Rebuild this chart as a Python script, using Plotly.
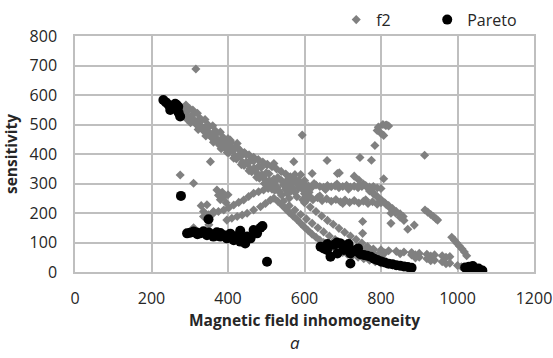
import plotly.graph_objects as go

# ---------------- data ----------------
f2_x = [
    # main upper band
    282, 287, 290, 294, 292, 300, 302, 307, 308, 315, 312, 320, 322, 328, 327, 335, 332, 340, 342, 348,
    347, 355, 352, 360, 362, 368, 367, 375, 372, 380, 382, 388, 387, 395, 392, 400, 402, 408, 407, 415,
    412, 420, 422, 428, 427, 435, 432, 440, 442, 448, 447, 455, 452, 460, 462, 468, 467, 475, 472, 480,
    482, 488, 487, 495, 492, 500, 502, 508, 507, 515, 512, 520, 522, 528, 527,
    298, 318, 338, 358, 378, 398, 418, 438, 458, 478, 498, 518,
    # upper parallel strand
    371, 383, 395, 407, 419, 431, 443, 455, 467, 479, 491, 503, 515, 527, 539, 551, 563, 575,
    # scattered points
    316, 354, 275, 310, 594, 406, 424, 502, 520, 572, 659, 691, 620, 745, 775, 784, 914, 807, 686,
    790, 793, 800, 805, 807, 812, 815, 820,
    # dense central cluster
    520, 528, 535, 540, 545, 550, 555, 560, 565, 570, 575, 580, 585, 590, 595, 600, 605, 560, 570, 580,
    590, 598, 608, 612, 550, 565, 585, 600, 575, 540, 530, 555, 615, 595,
    # upper strip at about 290
    610, 620, 630, 640, 650, 660, 670, 680, 690, 700, 710, 720, 730, 740, 750, 760, 770, 780, 790, 800,
    625, 655, 685, 715, 745, 775,
    # lower strip at about 240
    610, 622, 634, 646, 658, 670, 682, 694, 706, 718, 730, 742, 754, 766, 778, 790, 800, 640, 700, 760,
    # descending bands on the right
    770, 780, 790, 800, 810, 820, 830, 840, 850, 858,
    730, 742, 754, 766, 778, 790, 802, 814, 826, 838, 850, 860,
    # rising arms of the cross
    336, 349, 362, 375, 389, 402, 415, 428, 441, 454, 467, 480, 493, 505,
    397, 410, 424, 437, 450, 467, 485, 498, 511, 520,
    371, 375, 380, 390, 395, 385, 400,
    330, 336, 345, 362, 350, 310,
    # lower descending bands
    530, 540, 550, 560, 570, 580, 590, 600, 610, 620, 630, 640, 650, 660, 670, 680, 690, 700, 712, 725,
    740, 755, 770, 785, 800, 815, 830, 845, 860,
    545, 560, 575, 590, 605, 620, 635, 650, 665, 680, 695, 710, 725, 740, 755, 770, 785, 800,
    600, 615, 630, 645, 660, 675, 690, 705, 720, 735, 750, 765, 780, 795,
    # strands above the right Pareto points
    760, 780, 800, 820, 840, 860, 880, 900, 920, 940, 960, 980, 770, 810, 850, 890, 930, 970,
    880, 900, 920, 940, 960, 980, 1000, 1010, 890, 930, 970,
    985, 992, 998, 1005, 1012, 1018, 1024,
    915, 922, 930, 937, 944, 948,
    826, 826, 870, 887, 752, 752,
]
f2_y = [
    # main upper band
    533, 548, 566, 516, 543, 553, 506, 531, 549, 503, 514, 538, 483, 510, 521, 480, 492, 517, 461, 489,
    500, 459, 470, 496, 440, 467, 479, 437, 449, 474, 418, 446, 457, 416, 428, 452, 404, 416, 441, 386,
    413, 424, 383, 395, 419, 364, 391, 402, 361, 373, 398, 343, 369, 380, 340, 352, 376, 321, 348, 358,
    318, 330, 354, 300, 326, 336, 297, 309, 333, 281, 305, 315, 277, 288, 311,
    525, 500, 478, 455, 430, 405, 395, 372, 350, 332, 312, 292,
    # upper parallel strand
    450, 442, 436, 428, 420, 412, 405, 397, 389, 381, 373, 365, 357, 349, 341, 332, 323, 315,
    # scattered points
    688, 374, 329, 301, 464, 447, 436, 363, 368, 374, 378, 336, 334, 388, 379, 429, 396, 316, 334,
    480, 491, 470, 500, 463, 497, 498, 495,
    # dense central cluster
    300, 285, 270, 310, 295, 280, 265, 320, 300, 285, 270, 255, 310, 295, 280, 265, 250, 250, 315, 300,
    330, 300, 285, 270, 305, 275, 285, 310, 330, 260, 320, 290, 255, 245,
    # upper strip at about 290
    292, 288, 295, 290, 287, 293, 289, 292, 286, 290, 294, 288, 291, 286, 290, 293, 288, 290, 285, 283,
    300, 280, 298, 281, 297, 282,
    # lower strip at about 240
    250, 245, 252, 242, 248, 240, 246, 238, 244, 236, 242, 234, 240, 232, 238, 230, 235, 258, 232, 245,
    # descending bands on the right
    275, 265, 255, 245, 235, 225, 215, 205, 197, 188,
    325, 312, 298, 284, 270, 256, 242, 228, 214, 200, 186, 175,
    # rising arms of the cross
    188, 194, 199, 205, 210, 218, 227, 236, 244, 256, 267, 272, 278, 283,
    176, 182, 188, 193, 199, 210, 221, 232, 244, 250,
    278, 260, 245, 255, 235, 270, 262,
    225, 205, 228, 205, 160, 150,
    # lower descending bands
    240, 228, 215, 202, 190, 178, 165, 152, 140, 128, 118, 108, 100, 92, 85, 78, 72, 66, 60, 55,
    50, 45, 40, 35, 30, 27, 24, 21, 19,
    240, 225, 210, 195, 180, 165, 150, 136, 122, 110, 100, 90, 82, 75, 68, 62, 57, 52,
    235, 220, 205, 190, 175, 162, 148, 135, 122, 110, 98, 86, 74, 62,
    # strands above the right Pareto points
    80, 78, 75, 72, 70, 68, 66, 63, 60, 58, 55, 52, 70, 65, 62, 58, 54, 50,
    58, 50, 45, 40, 35, 30, 22, 18, 48, 38, 28,
    118, 108, 98, 88, 78, 68, 55,
    210, 203, 195, 188, 180, 176,
    165, 199, 145, 159, 171, 131,
]

pareto_x = [
    # upper-left group
    231, 238, 245, 252, 258, 266, 271, 275, 249, 262, 270,
    # single points
    277, 349, 502, 720,
    # lower-left group
    293, 301, 310, 318, 327, 336, 345, 354, 362, 371, 380, 389, 397, 406, 415, 424, 432, 441, 445, 450,
    459, 467, 476, 485, 490, 432, 380, 350, 320,
    # lower-right group
    642, 650, 659, 668, 677, 686, 694, 703, 712, 720, 729, 738, 746, 755, 764, 773, 782, 790, 800, 810,
    820, 830, 840, 850, 860, 870, 880, 700, 685, 660, 715, 740,
    # right group
    1020, 1025, 1030, 1035, 1040, 1045, 1050, 1055, 1060, 1065, 1040, 1030,
]
pareto_y = [
    # upper-left group
    583, 575, 566, 560, 555, 566, 540, 527, 549, 570, 560,
    # single points
    258, 179, 35, 29,
    # lower-left group
    131, 133, 137, 134, 131, 138, 125, 128, 120, 135, 120, 125, 114, 130, 108, 122, 103, 112, 97, 120,
    114, 142, 131, 150, 156, 140, 132, 134, 128,
    # lower-right group
    86, 80, 75, 52, 92, 63, 97, 75, 86, 63, 72, 69, 60, 58, 55, 52, 45, 41, 36, 32,
    28, 26, 23, 21, 19, 17, 14, 90, 100, 95, 95, 80,
    # right group
    15, 10, 18, 12, 15, 10, 8, 12, 5, 5, 20, 8,
]

x_ticks = [0, 200, 400, 600, 800, 1000, 1200]
y_ticks = [0, 100, 200, 300, 400, 500, 600, 700, 800]

# ---------------- figure ----------------
FONT = "Open Sans"
GRID = "#bfbfbf"
TXT = "#262626"

fig = go.Figure()
fig.add_trace(go.Scatter(
    x=f2_x, y=f2_y, mode="markers", name="f2", legendwidth=46,
    marker=dict(symbol="diamond", size=7, color="#808080", line=dict(width=0)),
))
fig.add_trace(go.Scatter(
    x=pareto_x, y=pareto_y, mode="markers", name="Pareto", legendwidth=60,
    marker=dict(symbol="circle", size=10, color="#000000", line=dict(width=0)),
))

fig.update_layout(
    width=553, height=358,
    margin=dict(l=75, r=19, t=36, b=86, autoexpand=False),
    paper_bgcolor="white", plot_bgcolor="white",
    font=dict(family=FONT, size=16, color=TXT),
    showlegend=True,
    legend=dict(
        orientation="h", xref="container", yref="container",
        x=0.608, y=0.945, xanchor="left", yanchor="middle",
        font=dict(family=FONT, size=16, color=TXT),
        bgcolor="rgba(0,0,0,0)", itemsizing="trace",
    ),
    xaxis=dict(
        range=[0, 1200], tickvals=x_ticks, ticktext=[str(v) for v in x_ticks],
        showgrid=True, gridcolor=GRID, gridwidth=1.5,
        showline=True, linecolor=GRID, linewidth=1.5, mirror=True,
        zeroline=False, ticks="", ticklabelstandoff=11, automargin=False,
        tickfont=dict(size=16, family=FONT, color=TXT),
        title=dict(text="<b>Magnetic field inhomogeneity</b>", font=dict(size=15.5, family=FONT, color=TXT), standoff=4),
    ),
    yaxis=dict(
        range=[0, 800], tickvals=y_ticks, ticktext=[str(v) for v in y_ticks],
        showgrid=True, gridcolor=GRID, gridwidth=1.5,
        showline=True, linecolor=GRID, linewidth=1.5, mirror=True,
        zeroline=False, ticks="", ticklabelstandoff=13, automargin=False,
        tickfont=dict(size=16, family=FONT, color=TXT),
        title=dict(text="<b>sensitivity</b>", font=dict(size=15.5, family=FONT, color=TXT), standoff=8),
    ),
    annotations=[dict(
        text="<i>a</i>", xref="paper", yref="paper", x=0.48, y=-0.30,
        showarrow=False, font=dict(family=FONT, size=17, color=TXT),
        xanchor="center", yanchor="middle",
    )],
)

fig.write_html(
    "out.html",
    config={"displayModeBar": False},
    post_script="document.body.style.margin='0px';",
)
